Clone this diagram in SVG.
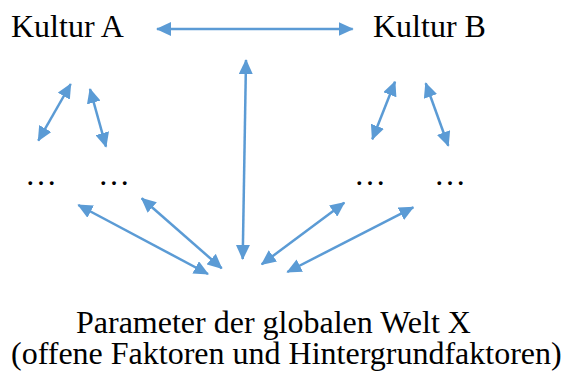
<svg xmlns="http://www.w3.org/2000/svg" width="563" height="372" viewBox="0 0 563 372">
<defs>
<style>
.t{font-family:"Liberation Serif","Times New Roman",serif;font-size:32px;fill:#000}
.c{stroke:#5B9BD5;stroke-width:2.5;fill:none;marker-start:url(#ah);marker-end:url(#ah)}
</style>
<marker id="ah" markerUnits="userSpaceOnUse" viewBox="0 0 15 14" refX="14" refY="7" markerWidth="15" markerHeight="14" orient="auto-start-reverse">
<path d="M0,0 L15,7 L0,14 z" fill="#5B9BD5"/>
</marker>
</defs>
<rect width="563" height="372" fill="#fff"/>
<g id="kultur-a"><text class="t" x="11" y="37">Kultur A</text></g>
<g id="kultur-b"><text class="t" x="373" y="37">Kultur B</text></g>
<g id="a-dots-1"><text class="t" x="25" y="185">…</text></g>
<g id="a-dots-2"><text class="t" x="98" y="185">…</text></g>
<g id="b-dots-1"><text class="t" x="354" y="185">…</text></g>
<g id="b-dots-2"><text class="t" x="434" y="185">…</text></g>
<g id="parameter">
<text class="t" x="76" y="333">Parameter der globalen Welt X<tspan x="11" y="364">(offene Faktoren und Hintergrundfaktoren)</tspan></text>
</g>
<g id="connectors">
<line class="c" x1="157" y1="29" x2="352.7" y2="29"/>
<line class="c" x1="246" y1="60" x2="242.7" y2="259"/>
<line class="c" x1="70.7" y1="84" x2="38.3" y2="140.7"/>
<line class="c" x1="90" y1="89" x2="106" y2="146.7"/>
<line class="c" x1="395" y1="81.7" x2="372.3" y2="139.3"/>
<line class="c" x1="425.7" y1="83.3" x2="448.3" y2="145.7"/>
<line class="c" x1="78.3" y1="205" x2="208" y2="274"/>
<line class="c" x1="141.7" y1="198.3" x2="221.7" y2="268.3"/>
<line class="c" x1="344.3" y1="202.7" x2="261.7" y2="264.3"/>
<line class="c" x1="413.3" y1="207.3" x2="287.3" y2="272"/>
</g>
</svg>
